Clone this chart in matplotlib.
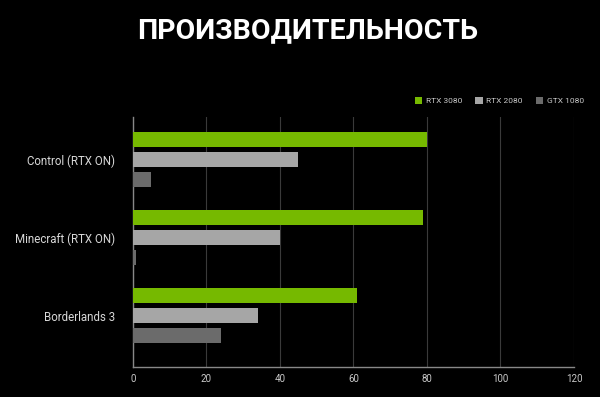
import matplotlib
matplotlib.use("Agg")
import matplotlib.pyplot as plt
import numpy as np

# Data
games = ["Control (RTX ON)", "Minecraft (RTX ON)", "Borderlands 3"]
rtx3080 = [80, 79, 61]
rtx2080 = [45, 40, 34]
gtx1080 = [5, 1, 24]
series_names = ["RTX 3080", "RTX 2080", "GTX 1080"]
xticks = [0, 20, 40, 60, 80, 100, 120]

colors = ["#76b900", "#a6a6a6", "#6b6b6b"]

plt.rcParams["font.family"] = ["Roboto", "DejaVu Sans"]

fig = plt.figure(figsize=(6, 3.97), dpi=100, facecolor="black")
ax = fig.add_axes([0.2212, 0.0755, 0.7355, 0.6297])
ax.set_facecolor("black")

y = np.arange(len(games))
offset = 0.255
height = 0.19
for i, (vals, name) in enumerate(zip([rtx3080, rtx2080, gtx1080], series_names)):
    ax.barh(y + (i - 1) * offset, vals, height=height, color=colors[i],
            label=name, zorder=3)

ax.set_xlim(0, 120)
ax.set_ylim(2.657, -0.545)
ax.set_xticks(xticks)
ax.set_xticklabels([str(t) for t in xticks], fontsize=7, color="#c8c8c8")
ax.set_yticks(y)
ax.set_yticklabels(games, fontsize=8.3, color="#d8d8d8")
ax.tick_params(axis="both", length=0)
ax.tick_params(axis="y", pad=13)
ax.tick_params(axis="x", pad=5)

ax.grid(axis="x", color="#3a3a3a", linewidth=0.8, zorder=0)
for side in ["top", "right"]:
    ax.spines[side].set_visible(False)
for side in ["left", "bottom"]:
    ax.spines[side].set_color("#888888")
    ax.spines[side].set_linewidth(1.0)

leg = ax.legend(loc="center right", bbox_to_anchor=(1.03, 1.065), ncol=3,
                frameon=False, fontsize=6, handlelength=0.9, handleheight=0.9,
                handletextpad=0.4, columnspacing=1.6, borderaxespad=0)
for t in leg.get_texts():
    t.set_color("#c8c8c8")

fig.text(0.5125, 0.924, "ПРОИЗВОДИТЕЛЬНОСТЬ", ha="center", va="center",
         fontsize=20.5, fontweight="bold", color="white")

fig.savefig("out.png", dpi=100, facecolor="black")
